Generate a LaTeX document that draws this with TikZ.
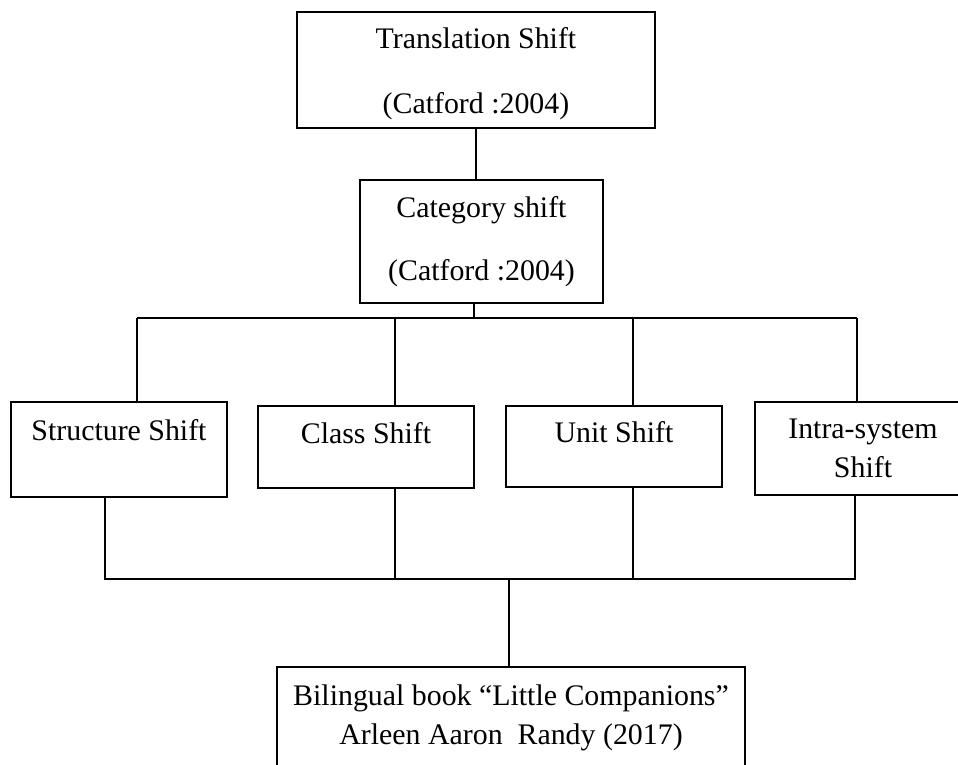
\documentclass[tikz,border=0pt]{standalone}
\usepackage{fontspec}
\setmainfont{Liberation Serif}
\usepackage{tikz}

\begin{document}
\begin{tikzpicture}[x=0.02cm, y=-0.02cm,
    box/.style={rectangle, draw, line width=1pt, align=center, inner sep=0pt,
        font=\fontsize{17}{22}\selectfont},
    link/.style={line width=1pt}]
    \useasboundingbox (0,0) rectangle (958,765);
    \clip (0,0) rectangle (958,765);

    % Nodes
    \node (trans) [box, minimum width=7.16cm, minimum height=2.32cm] at (476,70) {\mbox{}\\[-6pt]Translation Shift\\[15pt](Catford :2004)};
    \node (cat) [box, minimum width=4.86cm, minimum height=2.46cm] at (481.5,241.5) {Category shift\\[14pt](Catford :2004)};

    \node (struct) [box, minimum width=4.32cm, minimum height=1.9cm] at (119,449.5) {Structure Shift\\\mbox{}};
    \node (class) [box, minimum width=4.32cm, minimum height=1.64cm] at (366,447) {Class Shift\\[-6pt]\mbox{}};
    \node (unit) [box, minimum width=4.32cm, minimum height=1.62cm] at (614,446.5) {Unit Shift\\[-6pt]\mbox{}};
    \node (intra) [box, minimum width=4.32cm, minimum height=1.86cm] at (863,448.5) {Intra-system\\Shift};

    \node (book) [box, minimum width=9.36cm, minimum height=2.04cm] at (511,718) {Bilingual book ``Little Companions''\\Arleen Aaron\ \ Randy (2017)};

    % Bus points
    \coordinate (bus) at (474,318);
    \coordinate (busL) at (137,318);
    \coordinate (busR) at (857,318);
    \coordinate (dClass) at (395,318);
    \coordinate (dUnit) at (633,318);
    \coordinate (low) at (509,579);
    \coordinate (lowL) at (105,579);
    \coordinate (lowR) at (855,579);

    % Edges
    \draw[link] (trans.south) -- (trans.south |- cat.north);
    \draw[link] (cat.south -| bus) -- (bus);
    \draw[link] (busL) -- (busR);

    \draw[link] (busL) -- (busL |- struct.north);
    \draw[link] (dClass) -- (dClass |- class.north);
    \draw[link] (dUnit) -- (dUnit |- unit.north);
    \draw[link] (busR) -- (busR |- intra.north);

    \draw[link] (struct.south -| lowL) -- (lowL) -- (lowR) -- (lowR |- intra.south);
    \draw[link] (class.south -| dClass) -- (dClass |- low);
    \draw[link] (unit.south -| dUnit) -- (dUnit |- low);
    \draw[link] (low) -- (low |- book.north);
\end{tikzpicture}
\end{document}
